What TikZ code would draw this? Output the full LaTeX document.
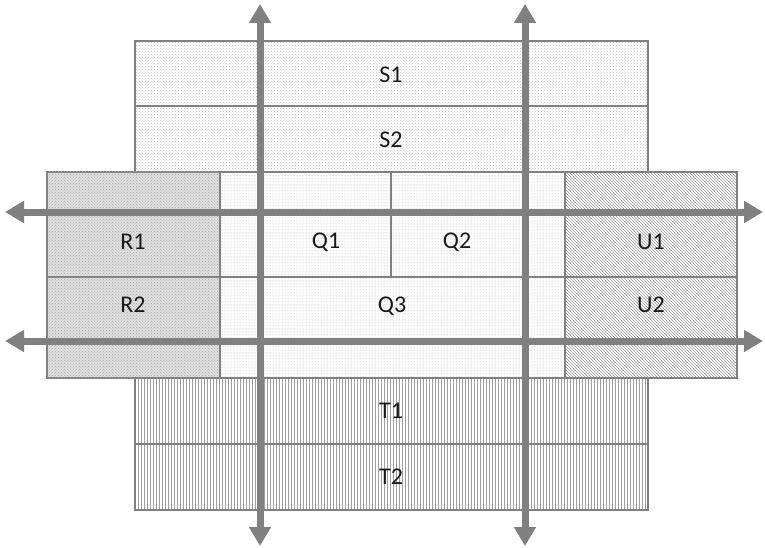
\documentclass[tikz,border=0pt]{standalone}
\usepackage{fontspec}
\setmainfont{Carlito}
\usetikzlibrary{patterns,arrows.meta}
\definecolor{lg}{RGB}{128,128,128}
\newcommand{\labfont}{\fontsize{24pt}{28pt}\selectfont}
\tikzset{
  cell/.style={draw=lg, line width=2.2pt},
  sfill/.style={cell, pattern=crosshatch dots, pattern color=lg!45},
  rfill/.style={cell, fill=black!12, postaction={pattern=crosshatch dots, pattern color=lg!70}},
  qfill/.style={cell, pattern=dots, pattern color=lg!70},
  ufill/.style={cell, pattern=north west lines, pattern color=lg!80},
  tfill/.style={cell, pattern=vertical lines, pattern color=lg!75},
  lab/.style={text=black!90, font=\labfont},
  axis/.style={draw=lg, line width=7pt, {Triangle[width=21pt,length=19pt]}-{Triangle[width=21pt,length=19pt]}, shorten <=-1pt, shorten >=-1pt}
}
\begin{document}
\begin{tikzpicture}[x=1pt,y=-1pt]
\useasboundingbox (0,0) rectangle (765,548);
% S block
\draw[sfill] (135,41) rectangle (648,106);
\draw[sfill] (135,106) rectangle (648,172);
% R block
\draw[rfill] (47,172) rectangle (220,277);
\draw[rfill] (47,277) rectangle (220,378);
% Q block
\draw[qfill] (220,172) rectangle (391,277);
\draw[qfill] (391,172) rectangle (565,277);
\draw[qfill] (220,277) rectangle (565,378);
% U block
\draw[ufill] (565,172) rectangle (737,277);
\draw[ufill] (565,277) rectangle (737,378);
% T block
\draw[tfill] (135,378) rectangle (648,444);
\draw[tfill] (135,444) rectangle (648,510);
% labels
\node[lab] (s1) at (391,75) {S1};
\node[lab] (s2) at (391,140) {S2};
\node[lab] (r1) at (133,242) {R1};
\node[lab] (r2) at (133,305) {R2};
\node[lab] (q1) at (326,242) {Q1};
\node[lab] (q2) at (457,242) {Q2};
\node[lab] (q3) at (392,306) {Q3};
\node[lab] (u1) at (651,242) {U1};
\node[lab] (u2) at (651,305) {U2};
\node[lab] (t1) at (391,411) {T1};
\node[lab] (t2) at (391,477) {T2};
% axes
\coordinate (v1t) at (260,5);
\coordinate (v1b) at (260,545);
\coordinate (v2t) at (525,5);
\coordinate (v2b) at (525,545);
\coordinate (h1l) at (6,212);
\coordinate (h1r) at (762,212);
\coordinate (h2l) at (6,341);
\coordinate (h2r) at (762,341);
\draw[axis] (v1t) -- (v1b);
\draw[axis] (v2t) -- (v2b);
\draw[axis] (h1l) -- (h1r);
\draw[axis] (h2l) -- (h2r);
\end{tikzpicture}
\end{document}
